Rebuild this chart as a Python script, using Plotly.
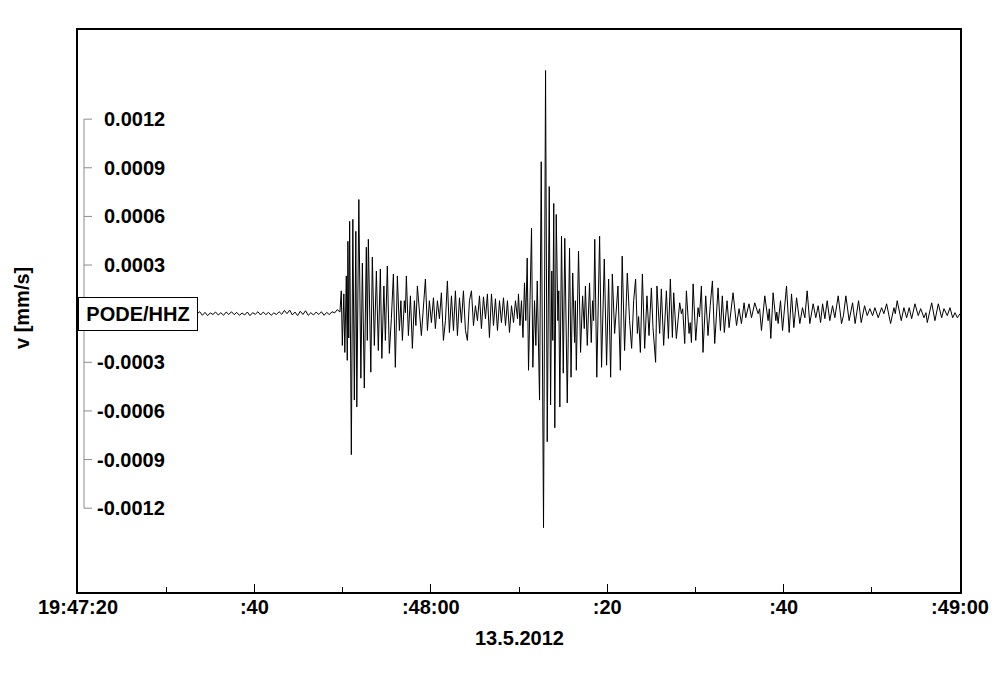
import pandas as pd
import plotly.graph_objects as go

# ---------------- data (time in s after 19:47:20, velocity in 1e-4 mm/s) ----------------
START = "2012-05-13 19:47:20"
UNIT = 1e-4

noise_t = [0.0, 1.0, 2.0, 3.0, 4.0, 5.0, 6.0, 7.0, 8.0, 9.0, 10.0, 11.0, 12.0, 13.0,
           13.5, 13.8, 14.1, 14.4, 14.7, 15.0, 15.3, 15.6, 15.9, 16.2, 16.5, 16.8, 17.1,
           17.4, 17.7, 18.0, 18.3, 18.6, 18.9, 19.2, 19.5, 19.8, 20.1, 20.4, 20.7, 21.0,
           21.3, 21.6, 21.9, 22.2, 22.5, 22.8, 23.1, 23.4, 23.7, 24.0, 24.3, 24.6, 24.9,
           25.2, 25.5, 25.8, 26.1, 26.4, 26.7, 27.0, 27.3, 27.6, 27.9, 28.2, 28.5, 28.8,
           29.1, 29.4, 29.7]
noise_v = [0.0, 0.05, -0.05, 0.05, -0.05, 0.0, 0.05, -0.05, 0.05, -0.05, 0.0, 0.05, -0.05, 0.0,
           0.0, 0.12, -0.1, 0.08, -0.12, 0.05, -0.05, 0.1, -0.08, 0.06, -0.1, 0.1, -0.05,
           0.12, -0.06, 0.08, -0.1, 0.04, -0.08, 0.1, -0.12, 0.06, -0.04, 0.12, -0.08, 0.1,
           -0.06, 0.08, -0.1, 0.05, -0.05, 0.12, -0.04, 0.2, 0.0, 0.22, -0.08, 0.1, -0.12,
           0.15, -0.05, 0.18, -0.1, 0.06, -0.08, 0.1, -0.05, 0.12, -0.1, 0.08, -0.06, 0.12,
           0.05, 0.25, 0.1]

p_t = [29.85, 29.97, 30.14, 30.25, 30.42, 30.53, 30.60, 30.70, 30.80, 30.99, 31.16, 31.33,
       31.50, 31.61, 31.84, 32.07, 32.24, 32.46, 32.69, 32.80, 32.92, 33.20, 33.37, 33.60,
       33.83, 34.05, 34.28, 34.45, 34.68, 34.85, 35.07, 35.30, 35.53, 35.76, 35.98, 36.21,
       36.44, 36.61, 36.78, 37.00, 37.12, 37.23, 37.46, 37.69, 37.91, 38.14, 38.31, 38.48,
       38.93, 39.39, 39.62]
p_v = [1.41, -1.96, 1.22, -2.39, 2.33, -2.88, 4.47, -1.50, 5.70, -8.70, 5.82, -5.33,
       5.08, -5.76, 7.04, -3.98, 3.12, -4.59, 4.10, -1.65, 4.59, -3.61, 3.49, -1.96,
       2.63, -2.27, 2.76, -2.76, 1.71, -1.65, 2.94, -2.45, -0.31, 2.45, -3.31, 2.33,
       -1.04, 0.80, -1.65, 0.80, 0.06, 2.33, -1.35, 1.10, -2.14, 0.80, -0.73, 1.71,
       -1.35, 2.14, -1.04]

mid_t = [39.84, 40.07, 40.30, 40.52, 40.75, 40.98, 41.20, 41.43, 41.66, 41.88, 42.11, 42.34,
         42.57, 42.79, 43.02, 43.25, 43.47, 43.70, 43.93, 44.15, 44.38, 44.61, 44.84, 45.06,
         45.29, 45.52, 45.74, 45.97, 46.20, 46.42, 46.65, 46.88, 47.11, 47.33, 47.56, 47.79,
         48.01, 48.24, 48.47, 48.69, 48.92, 49.15, 49.38, 49.60, 49.83]
mid_v = [0.80, -0.55, 0.98, -0.92, 0.80, -0.31, 1.29, -1.65, -0.43, 2.02, -1.16, 1.10,
         -1.04, 1.41, -1.35, 0.98, -0.55, 1.41, -1.04, -1.65, 0.80, 1.41, -0.73, 0.49,
         -0.43, 1.10, -0.92, 1.04, -0.31, 1.22, -1.47, 1.22, -0.73, 0.92, -1.04, 0.80,
         -0.55, 0.98, -0.73, 0.80, -1.16, 0.49, -0.55, 0.80, -0.31]

s_t = [49.94, 50.11, 50.28, 50.45, 50.62, 50.77, 50.93, 51.08, 51.25, 51.42, 51.57, 51.76,
       51.91, 52.07, 52.33, 52.52, 52.78, 53.01, 53.20, 53.43, 53.58, 53.72, 53.83, 53.94,
       54.06, 54.22, 54.41, 54.51, 54.63, 54.82, 55.02, 55.19, 55.47, 55.73, 55.90, 56.09,
       56.30, 56.39, 56.50, 56.75, 56.98, 57.21, 57.40, 57.53, 57.74, 58.00, 58.19, 58.34,
       58.46, 58.59, 58.82, 59.14, 59.36, 59.67, 59.93, 60.16, 60.39, 60.58, 60.84, 61.22,
       61.49, 61.70, 61.97, 62.28, 62.54, 62.77, 63.00, 63.22, 63.42, 63.56, 63.76, 63.99,
       64.25, 64.51, 64.74, 65.01, 65.19, 65.49, 65.64, 65.95, 66.14, 66.40, 66.71, 66.94,
       67.16, 67.39, 67.54, 67.84, 68.22, 68.41, 68.56, 68.79, 68.98, 69.28, 69.41, 69.55]
s_v = [1.22, -0.73, 0.80, -1.47, 1.90, -0.43, 3.43, -3.49, 0.80, 5.27, -3.31, 0.80,
       -1.96, 2.02, -5.33, 9.37, -13.2, 15.0, -7.90, 7.84, -5.63, 2.63, -1.65, 6.80,
       -7.04, 6.12, -0.43, 1.41, -5.76, 4.78, -3.67, 4.65, -5.51, 4.04, -3.92, 2.51,
       -1.78, 0.80, -3.49, 3.86, -2.39, 1.10, -0.92, 1.71, -1.96, 1.90, -1.78, 0.80,
       -0.43, 4.59, -3.92, 4.78, -3.31, 3.37, -3.18, 2.14, -3.92, 2.45, -1.22, 1.71,
       -3.49, 3.55, -2.27, 2.51, -0.43, -2.14, 0.80, 2.14, -1.22, -0.18, -2.39, 2.45,
       -2.14, 1.10, -1.35, 1.59, -0.86, -3.00, 1.71, -1.22, 1.53, -1.96, 1.41, -1.53,
       2.14, -1.47, 1.29, -1.53, 0.67, 0.0, 0.30, -1.84, 1.41, -1.22, -0.55, -1.78]

coda_t = [69.74, 70.04, 70.30, 70.46, 70.68, 70.86, 71.17, 71.43, 71.68, 71.93, 72.19, 72.57,
          72.84, 73.05, 73.28, 73.59, 73.82, 74.27, 74.66, 74.95, 75.22, 75.52, 75.71, 76.08,
          76.36, 76.73, 77.11, 77.28, 77.49, 77.87, 78.24, 78.38, 78.55, 78.81, 79.12, 79.23,
          79.38, 79.65, 79.88, 80.33, 80.63, 80.90, 81.16, 81.47, 81.84, 82.14, 82.41, 82.67,
          82.97, 83.35, 83.65, 83.92, 84.19, 84.42, 84.68, 84.94, 85.24, 85.55, 85.81, 86.19,
          86.57, 86.79, 87.06, 87.43, 87.82, 88.11, 88.50, 88.80, 89.18, 89.48, 89.78, 90.09,
          90.35, 90.73, 91.11, 91.37, 91.68, 92.13, 92.51, 92.66, 92.88, 93.34, 93.64, 93.95,
          94.24, 94.52, 94.89, 95.27, 95.54, 95.91, 96.14, 96.29, 96.79, 97.16, 97.54, 97.92,
          98.18, 98.56, 98.86, 99.17, 99.43, 99.70, 100.0]
coda_v = [1.84, -1.65, 0.37, -0.20, 1.71, -2.39, 1.10, -1.35, 0.50, 2.02, -1.84, 1.59,
          -1.04, 1.10, -1.16, 0.80, -0.86, 1.29, -0.73, 0.31, -0.61, 0.67, -0.25, 0.61,
          -0.25, 0.67, 0.00, 0.30, -1.04, 1.10, -0.43, 0.30, -1.53, 1.29, -0.43, 0.10,
          -0.61, 0.80, -1.04, 1.71, -1.16, 1.22, -0.86, 0.98, -0.61, 0.37, -0.25, 1.41,
          -0.61, 0.61, -0.25, 0.49, -0.55, 0.61, -0.31, 0.80, -0.43, 0.49, -0.25, 1.10,
          -0.61, -0.10, 1.10, -0.43, 0.67, -0.61, 0.80, -0.55, 0.49, -0.12, 0.31, -0.12,
          0.37, -0.25, 0.37, 0.00, 0.61, -0.61, 0.37, 0.00, 0.80, -0.43, 0.37, -0.25,
          0.37, -0.31, 0.61, -0.12, 0.31, -0.25, 0.06, -0.55, 0.67, -0.43, 0.61, -0.25,
          0.31, -0.12, 0.37, -0.25, 0.06, -0.25, 0.00]

xtick_sec = [0, 20, 40, 60, 80, 100]
xtick_text = ["19:47:20", ":40", ":48:00", ":20", ":40", ":49:00"]
xminor_sec = [10, 30, 50, 70, 90]
ytick_vals = [0.0012, 0.0009, 0.0006, 0.0003, 0.0, -0.0003, -0.0006, -0.0009, -0.0012]
# the label of the zero tick is hidden behind the station box in the reference
ytick_text = ["0.0012", "0.0009", "0.0006", "0.0003", "", "-0.0003", "-0.0006", "-0.0009", "-0.0012"]
station_label = "PODE/HHZ"
y_title = "v [mm/s]"
x_title = "13.5.2012"

# ---------------- build ----------------
segments = [(noise_t, noise_v), (p_t, p_v), (mid_t, mid_v), (s_t, s_v), (coda_t, coda_v)]
t_all, v_all = [], []
for tt, vv in segments:
    assert len(tt) == len(vv), (len(tt), len(vv))
    t_all += tt
    v_all += vv

t0 = pd.Timestamp(START)
def ts(sec):
    return (t0 + pd.Timedelta(seconds=sec)).strftime("%Y-%m-%d %H:%M:%S.%f")

x = [ts(s) for s in t_all]
y = [v * UNIT for v in v_all]

FONT = "Liberation Sans, Arial, sans-serif"
BOLD = dict(family=FONT, size=20, color="black", weight="bold")
GRAY = "#8c8c8c"

# page body has an 8px margin, so the figure is offset by 8px
W, H = 984, 661
ML, MT = 70, 22
PW, PH = 882, 562
MR = W - ML - PW
MB = H - MT - PH

fig = go.Figure()
fig.add_trace(go.Scatter(x=x, y=y, mode="lines", line=dict(color="black", width=1),
                         hoverinfo="skip", showlegend=False))

fig.update_layout(
    width=W, height=H,
    margin=dict(l=ML, r=MR, t=MT, b=MB, pad=0),
    paper_bgcolor="white", plot_bgcolor="white",
    showlegend=False,
    xaxis=dict(
        type="date",
        range=[ts(0), ts(100)],
        tickmode="array",
        tickvals=[ts(s) for s in xtick_sec],
        ticktext=xtick_text,
        ticks="inside", ticklen=8, tickwidth=1, tickcolor="black",
        tickfont=BOLD, ticklabelstandoff=-4,
        showline=True, mirror=True, linecolor="black", linewidth=1.5,
        showgrid=False, zeroline=False, automargin=False,
        minor=dict(tickmode="array", tickvals=[ts(s) for s in xminor_sec],
                   ticks="inside", ticklen=5, tickwidth=1, tickcolor="black", showgrid=False),
    ),
    yaxis=dict(
        range=[-0.001717, 0.00175],
        showticklabels=False, ticks="",
        showline=True, mirror=True, linecolor="black", linewidth=1.5,
        showgrid=False, zeroline=False, automargin=False,
    ),
)

# reference pixel positions (frame left = 78, frame bottom = 592 in the reference)
REF_L, REF_B = 78, 592

# inner bracket axis
bx0 = (84 - REF_L) / PW
bx1 = (92 - REF_L) / PW
fig.add_shape(type="line", xref="paper", yref="y", x0=bx0, x1=bx0,
              y0=min(ytick_vals), y1=max(ytick_vals), line=dict(color=GRAY, width=1))
annotations = []
for v, txt in zip(ytick_vals, ytick_text):
    fig.add_shape(type="line", xref="paper", yref="y", x0=bx0, x1=bx1, y0=v, y1=v,
                  line=dict(color=GRAY, width=1))
    if txt:
        annotations.append(dict(xref="paper", yref="y", x=(167 - REF_L) / PW, y=v, text=txt,
                                xanchor="right", yanchor="middle", showarrow=False, font=BOLD))

annotations.append(dict(xref="paper", yref="paper", x=(22 - REF_L) / PW, y=(REF_B - 308) / PH,
                        text=y_title, textangle=-90, xanchor="center", yanchor="middle",
                        showarrow=False, font=BOLD))
annotations.append(dict(xref="paper", yref="paper", x=0.5, y=-(638 - REF_B) / PH,
                        text=x_title, xanchor="center", yanchor="middle",
                        showarrow=False, font=BOLD))
annotations.append(dict(xref="paper", yref="y", x=0, y=0, text=station_label,
                        xanchor="left", yanchor="middle", showarrow=False, font=BOLD,
                        bgcolor="white", bordercolor="black", borderwidth=1, borderpad=1,
                        width=116, height=30))
fig.update_layout(annotations=annotations)

fig.write_html("out.html")
